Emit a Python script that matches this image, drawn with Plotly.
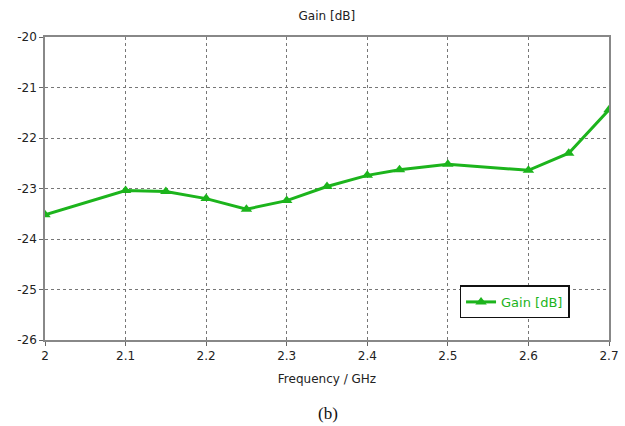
import plotly.graph_objects as go

freq = [2.0, 2.1, 2.15, 2.2, 2.25, 2.3, 2.35, 2.4, 2.44, 2.5, 2.6, 2.65, 2.7]
gain = [-23.52, -23.04, -23.06, -23.2, -23.41, -23.24, -22.96, -22.74, -22.63, -22.52, -22.64, -22.3, -21.44]
x_ticks = [2.0, 2.1, 2.2, 2.3, 2.4, 2.5, 2.6, 2.7]
x_tick_labels = ["2", "2.1", "2.2", "2.3", "2.4", "2.5", "2.6", "2.7"]
y_ticks = [-26, -25, -24, -23, -22, -21, -20]
y_tick_labels = ["-26", "-25", "-24", "-23", "-22", "-21", "-20"]

green = "#1cb41c"
font = "DejaVu Sans"

fig = go.Figure()
fig.add_trace(go.Scatter(
    x=freq, y=gain, mode="lines+markers", name="Gain [dB]",
    line=dict(color=green, width=3),
    marker=dict(symbol="triangle-up", size=10, color=green),
))

fig.update_layout(
    width=625, height=426,
    margin=dict(l=45, r=16, t=37, b=86, autoexpand=False),
    paper_bgcolor="white", plot_bgcolor="white",
    font=dict(family=font, size=12, color="#222"),
    title=dict(text="Gain [dB]", x=0.523, xanchor="center", y=0.962, yanchor="middle",
               font=dict(family=font, size=12, color="#222")),
    showlegend=True,
    legend=dict(x=0.735, y=0.18, xanchor="left", yanchor="top",
                bordercolor="#111", borderwidth=1.5, bgcolor="white",
                font=dict(family=font, size=13, color=green),
                itemwidth=30, tracegroupgap=0),
    xaxis=dict(range=[2.0, 2.7], tickvals=x_ticks, ticktext=x_tick_labels,
               showgrid=True, gridcolor="#777", griddash="dot", gridwidth=1,
               showline=True, linecolor="#888", linewidth=1.5, mirror=True,
               ticks="outside", ticklen=4, tickcolor="#666",
               zeroline=False, tickfont=dict(size=12, color="#222"),
               automargin=False,
               title=dict(text="Frequency / GHz", standoff=12, font=dict(size=12, color="#222"))),
    yaxis=dict(range=[-26, -20], tickvals=y_ticks, ticktext=y_tick_labels,
               showgrid=True, gridcolor="#777", griddash="dot", gridwidth=1,
               showline=True, linecolor="#888", linewidth=1.5, mirror=True,
               ticks="outside", ticklen=4, tickcolor="#666", automargin=False,
               zeroline=False, tickfont=dict(size=12, color="#222")),
)

fig.add_annotation(text="(b)", xref="paper", yref="paper", x=0.502, y=-0.243,
                   xanchor="center", yanchor="middle", showarrow=False,
                   font=dict(family="Liberation Serif", size=17, color="#111"))

fig.write_html("out.html")
